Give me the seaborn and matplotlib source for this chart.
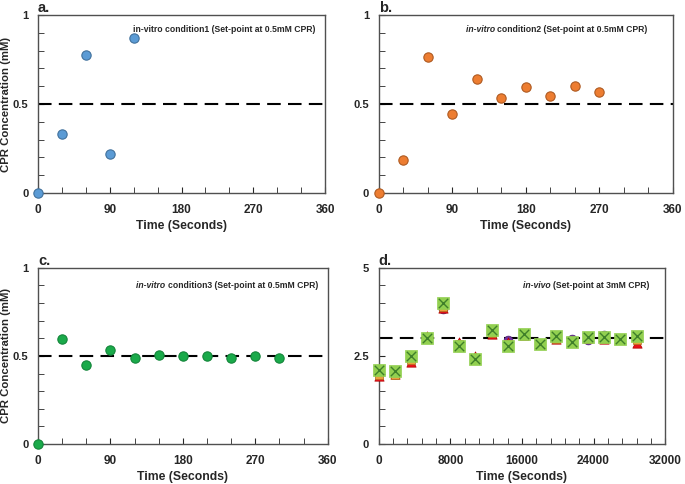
### Package usage
import numpy as np
import pandas as pd
import matplotlib
matplotlib.use("Agg")
import matplotlib.pyplot as plt
from matplotlib.ticker import MultipleLocator, FormatStrFormatter
import seaborn as sns

sns.set_style("ticks")
plt.rcParams['font.family'] = ['Liberation Sans', 'DejaVu Sans']
plt.rcParams['font.weight'] = 'bold'

### Data
time_a = [0, 30, 60, 90, 120]
conc_a = [0, 0.33, 0.775, 0.22, 0.87]

time_b = [0, 30, 60, 90, 120, 150, 180, 210, 240, 270]
conc_b = [0, 0.184, 0.766, 0.443, 0.64, 0.533, 0.598, 0.546, 0.604, 0.568]

time_c = [0, 30, 60, 90, 120, 150, 180, 210, 240, 270, 300]
conc_c = [0, 0.594, 0.45, 0.535, 0.486, 0.508, 0.497, 0.497, 0.49, 0.497, 0.488]

time_d = [0, 1800, 3600, 5400, 7200, 9000, 10800, 12600, 14400, 16200,
          18000, 19800, 21600, 23400, 25200, 27000, 28800]
conc_d_purple = [1.98, 2.0, 2.38, 3.02, 3.84, 2.85, 2.45, 3.15, 2.96, 3.12,
                 2.85, 3.0, 2.99, 2.96, 3.08, 2.98, 3.0]
conc_d_red = [1.94, 2.0, 2.34, 3.06, 3.86, 2.9, 2.5, 3.12, 2.9, 3.1,
              2.85, 2.98, 2.92, 3.0, 2.97, 2.98, 2.87]
conc_d_orange = [1.97, 1.97, 2.38, 3.0, 3.88, 2.85, 2.45, 3.14, 2.85, 3.12,
                 2.85, 2.97, 2.92, 3.0, 2.97, 2.98, 2.95]
conc_d_green = [2.09, 2.08, 2.5, 3.0, 4.0, 2.79, 2.42, 3.24, 2.77, 3.12,
                2.85, 3.07, 2.89, 3.05, 3.04, 2.98, 3.07]

setpoints = [0.5, 0.5, 0.5, 3.0]

fig = plt.figure(figsize=(6.85, 4.84), dpi=100)
ax_a = fig.add_axes([0.0555, 0.601, 0.419, 0.368])
ax_b = fig.add_axes([0.553, 0.601, 0.429, 0.368])
ax_c = fig.add_axes([0.0555, 0.0826, 0.423, 0.364])
ax_d = fig.add_axes([0.553, 0.0826, 0.418, 0.364])

### Scatter panels
sns.scatterplot(x=time_a, y=conc_a, ax=ax_a, color='#5B9BD5', edgecolor='#41719C',
                s=45, linewidth=0.8, zorder=3, clip_on=False)
sns.scatterplot(x=time_b, y=conc_b, ax=ax_b, color='#ED7D31', edgecolor='#AE5A21',
                s=45, linewidth=0.8, zorder=3, clip_on=False)
sns.scatterplot(x=time_c, y=conc_c, ax=ax_c, color='#1AAA4A', edgecolor='#13853A',
                s=45, linewidth=0.8, zorder=3, clip_on=False)

# in-vivo panel: several overlapping series
sns.scatterplot(x=time_d, y=conc_d_purple, ax=ax_d, color='#7030A0', edgecolor='#4B2070',
                s=40, linewidth=0.5, zorder=3, clip_on=False)
sns.scatterplot(x=time_d, y=conc_d_red, ax=ax_d, color='#E8141B', marker='^',
                edgecolor='#B00000', s=45, linewidth=0.5, zorder=4, clip_on=False)
sns.scatterplot(x=time_d, y=conc_d_orange, ax=ax_d, color='#E8A33D', marker='s',
                edgecolor='#B07020', s=30, linewidth=0.5, zorder=5, clip_on=False)
sns.scatterplot(x=time_d, y=conc_d_green, ax=ax_d, color='#92D050', marker='s',
                edgecolor='#92D050', s=70, linewidth=0.5, zorder=6, clip_on=False)
sns.scatterplot(x=time_d, y=conc_d_green, ax=ax_d, color='#3F7F2A', marker='x',
                s=45, linewidth=1.0, zorder=7, clip_on=False)

### Axes styling
panels = [ax_a, ax_b, ax_c, ax_d]
labels = ['a.', 'b.', 'c.', 'd.']
for ax, sp, lab in zip(panels, setpoints, labels):
    ax.axhline(sp, color='black', lw=1.5, dashes=(6.5, 3.5), zorder=2)
    ax.tick_params(which='both', direction='in')
    ax.tick_params(axis='x', labelsize=8.5, pad=8)
    ax.tick_params(axis='y', labelsize=8, pad=7)
    ax.tick_params(which='major', length=4, width=0.8)
    ax.tick_params(which='minor', length=4, width=0.6)
    for s in ax.spines.values():
        s.set_color('#505050')
        s.set_linewidth(1.0)
    ax.set_xlabel('Time (Seconds)', fontsize=8.8, fontweight='bold', labelpad=3)
    ax.text(0.0, 1.0, lab, transform=ax.transAxes, fontsize=10.5, fontweight='bold',
            ha='left', va='bottom')

for ax in [ax_a, ax_b, ax_c]:
    ax.set_xlim(0, 360)
    ax.set_ylim(0, 1)
    ax.xaxis.set_major_locator(MultipleLocator(90))
    ax.xaxis.set_minor_locator(MultipleLocator(30))
    ax.yaxis.set_major_locator(MultipleLocator(0.5))
    ax.yaxis.set_minor_locator(MultipleLocator(0.1))
    ax.yaxis.set_major_formatter(FormatStrFormatter('%g'))

ax_d.set_xlim(0, 32000)
ax_d.set_ylim(0, 5)
ax_d.xaxis.set_major_locator(MultipleLocator(8000))
ax_d.xaxis.set_minor_locator(MultipleLocator(1600))
ax_d.yaxis.set_major_locator(MultipleLocator(2.5))
ax_d.yaxis.set_minor_locator(MultipleLocator(0.5))
ax_d.yaxis.set_major_formatter(FormatStrFormatter('%g'))

for ax in [ax_a, ax_c]:
    ax.set_ylabel('CPR Concentration (mM)', fontsize=8.2, fontweight='bold')
    ax.yaxis.set_label_coords(-0.093, 0.5)

for ax in panels:
    for t in ax.get_xticklabels() + ax.get_yticklabels():
        t.set_fontweight('bold')

### Annotations (italic "in-vitro" + bold rest)
notes = [
    (ax_a, 0.965, 0.92, 'in-vitro condition1 (Set-point at 0.5mM CPR)', None),
    (ax_b, 0.915, 0.92, 'condition2 (Set-point at 0.5mM CPR)', 'in-vitro '),
    (ax_c, 0.966, 0.90, 'condition3 (Set-point at 0.5mM CPR)', 'in-vitro '),
    (ax_d, 0.944, 0.90, '(Set-point at 3mM CPR)', 'in-vivo '),
]
for ax, xx, yy, txt, ital in notes:
    t = ax.text(xx, yy, txt, transform=ax.transAxes, fontsize=6.2, fontweight='bold',
                ha='right', va='center')
    if ital:
        ax.annotate(ital, xy=(0, 0.5), xycoords=t, fontsize=6.2, fontweight='bold',
                    style='italic', ha='right', va='center')

fig.savefig('out.png', dpi=100)
